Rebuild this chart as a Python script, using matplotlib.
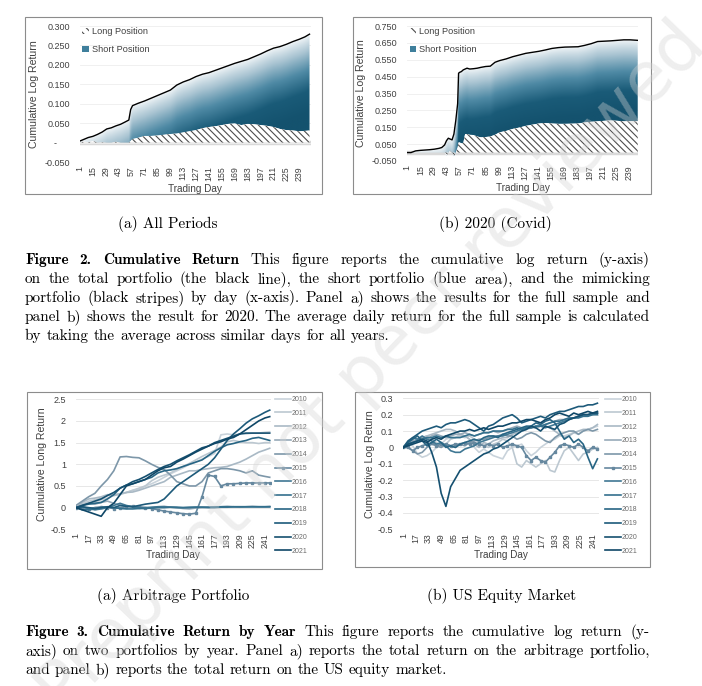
import numpy as np
import matplotlib
matplotlib.use("Agg")
import matplotlib.pyplot as plt
from matplotlib.patches import Patch, PathPatch, Rectangle
from matplotlib.colors import LinearSegmentedColormap

# ---------------- data ----------------
# Figure 2a: all periods
days_2a = [1, 5, 10, 15, 20, 25, 30, 35, 40, 45, 50, 54, 56, 58, 64, 71, 78, 85, 92, 99, 106,
           113, 120, 127, 134, 141, 148, 155, 162, 169, 176, 183, 190, 197, 204, 211, 218, 225,
           232, 239, 245, 250]
total_2a = [0.004, 0.008, 0.013, 0.016, 0.021, 0.027, 0.035, 0.038, 0.043, 0.047, 0.053, 0.058,
            0.085, 0.095, 0.101, 0.107, 0.114, 0.121, 0.128, 0.135, 0.148, 0.156, 0.162, 0.170,
            0.176, 0.180, 0.186, 0.192, 0.198, 0.204, 0.209, 0.214, 0.221, 0.228, 0.236, 0.243,
            0.247, 0.253, 0.260, 0.266, 0.272, 0.279]
long_2a = [0.0, 0.003, 0.001, 0.004, 0.0, 0.001, 0.0, 0.0, 0.002, 0.0, 0.0, 0.0, 0.004, 0.009,
           0.012, 0.017, 0.017, 0.018, 0.020, 0.022, 0.023, 0.026, 0.029, 0.032, 0.037, 0.040,
           0.042, 0.045, 0.048, 0.049, 0.045, 0.048, 0.047, 0.045, 0.043, 0.040, 0.035, 0.032,
           0.031, 0.029, 0.030, 0.031]

# Figure 2b: 2020
days_2b = [1, 5, 10, 15, 20, 25, 30, 35, 38, 41, 43, 45, 47, 49, 51, 53, 55, 56, 57, 59, 61, 63,
           65, 68, 72, 76, 80, 85, 90, 95, 100, 107, 114, 121, 128, 135, 142, 149, 156, 163, 170,
           177, 184, 191, 198, 205, 212, 219, 226, 233, 240, 248]
total_2b = [0.0, 0.0, 0.010, 0.013, 0.015, 0.017, 0.020, 0.025, 0.030, 0.045, 0.070, 0.085,
            0.080, 0.075, 0.110, 0.190, 0.290, 0.470, 0.475, 0.480, 0.490, 0.495, 0.500, 0.495,
            0.497, 0.500, 0.505, 0.510, 0.512, 0.535, 0.545, 0.555, 0.568, 0.578, 0.588, 0.594,
            0.600, 0.608, 0.617, 0.622, 0.625, 0.626, 0.627, 0.635, 0.645, 0.658, 0.660, 0.662,
            0.665, 0.668, 0.668, 0.665]
long_2b = [0.0, 0.0, 0.0, 0.0, 0.0, 0.0, 0.0, 0.0, 0.0, 0.0, -0.020, 0.0, 0.010, 0.0, -0.022,
           0.0, 0.030, 0.060, 0.060, 0.055, 0.055, 0.110, 0.110, 0.105, 0.104, 0.095, 0.090,
           0.092, 0.095, 0.105, 0.120, 0.128, 0.140, 0.148, 0.158, 0.165, 0.172, 0.175, 0.172,
           0.170, 0.170, 0.171, 0.172, 0.178, 0.182, 0.185, 0.188, 0.190, 0.188, 0.185, 0.186,
           0.186]

years = ["2010", "2011", "2012", "2013", "2014", "2015", "2016", "2017", "2018", "2019",
         "2020", "2021"]
year_colors = ["#c9d3db", "#bcc8d1", "#a9b9c5", "#97aab9", "#7d97a9", "#66889f", "#3f7793",
               "#33708d", "#276584", "#1d5a7a", "#155070", "#0f4767"]

# Figure 3a: arbitrage portfolio by year
days_3a = list(range(1, 242, 8)) + [247]
arb = {
    "2010": [0.00, 0.05, 0.10, 0.12, 0.18, 0.22, 0.28, 0.30, 0.35, 0.40, 0.42, 0.50, 0.55, 0.62,
             0.70, 0.78, 0.85, 0.92, 1.00, 1.05, 1.12, 1.18, 1.25, 1.68, 1.70, 1.68, 1.70, 1.70,
             1.72, 1.72, 1.74, 1.75],
    "2011": [0.00, 0.08, 0.15, 0.18, 0.22, 0.28, 0.30, 0.32, 0.35, 0.40, 0.45, 0.50, 0.62, 0.70,
             0.75, 0.80, 0.88, 0.95, 1.02, 1.10, 1.18, 1.25, 1.32, 1.40, 1.52, 1.55, 1.52, 1.50,
             1.50, 1.48, 1.50, 1.50],
    "2012": [0.00, 0.12, 0.20, 0.22, 0.25, 0.30, 0.28, 0.32, 0.35, 0.36, 0.40, 0.45, 0.50, 0.55,
             0.60, 0.70, 0.75, 0.80, 0.85, 0.85, 0.88, 0.90, 0.92, 0.93, 0.95, 1.00, 1.05, 1.12,
             1.20, 1.28, 1.33, 1.37],
    "2013": [0.00, 0.06, 0.10, 0.08, 0.12, 0.15, 0.10, 0.06, 0.04, 0.02, 0.00, -0.02, 0.00, 0.02,
             0.03, 0.01, 0.00, -0.02, -0.03, -0.01, 0.00, 0.01, 0.02, 0.02, 0.03, 0.02, 0.01,
             0.02, 0.03, 0.02, 0.02, 0.03],
    "2014": [0.05, 0.15, 0.25, 0.33, 0.50, 0.65, 0.85, 1.17, 1.18, 1.16, 1.15, 1.08, 1.00, 0.93,
             0.88, 0.75, 0.60, 0.55, 0.50, 0.50, 0.60, 0.80, 0.85, 0.90, 0.90, 0.88, 0.85, 0.80,
             0.85, 0.75, 0.72, 0.70],
    "2015": [0.00, 0.00, -0.02, 0.00, 0.02, 0.00, -0.02, 0.00, 0.02, 0.03, 0.02, 0.00, -0.02,
             -0.05, -0.08, -0.10, -0.12, -0.14, -0.15, -0.13, 0.25, 0.75, 0.72, 0.50, 0.55, 0.55,
             0.56, 0.57, 0.57, 0.57, 0.57, 0.57],
    "2016": [0.00, 0.02, -0.02, -0.05, -0.03, 0.00, 0.05, 0.10, 0.05, 0.02, 0.00, 0.00, 0.01,
             0.02, 0.02, 0.01, 0.00, 0.00, 0.01, 0.01, 0.01, 0.00, 0.00, 0.01, 0.01, 0.02, 0.02,
             0.02, 0.02, 0.02, 0.02, 0.02],
    "2017": [0.00, -0.05, -0.05, -0.03, 0.00, 0.02, 0.00, -0.02, -0.03, -0.03, -0.02, -0.02,
             -0.01, 0.00, 0.00, 0.01, 0.01, 0.00, 0.00, 0.01, 0.01, 0.01, 0.01, 0.02, 0.02, 0.02,
             0.02, 0.02, 0.02, 0.02, 0.02, 0.02],
    "2018": [0.00, 0.05, 0.08, 0.10, 0.12, 0.20, 0.30, 0.45, 0.52, 0.55, 0.60, 0.65, 0.70, 0.80,
             0.85, 0.87, 0.90, 0.95, 1.00, 1.05, 1.10, 1.20, 1.30, 1.38, 1.45, 1.48, 1.52, 1.55,
             1.60, 1.62, 1.58, 1.55],
    "2019": [0.00, 0.02, 0.00, -0.02, 0.00, 0.02, 0.00, 0.05, 0.03, 0.02, 0.05, 0.08, 0.10, 0.12,
             0.20, 0.35, 0.50, 0.60, 0.70, 0.80, 0.90, 1.00, 1.15, 1.35, 1.55, 1.70, 1.82, 1.95,
             2.05, 2.12, 2.20, 2.25],
    "2020": [0.00, 0.05, 0.10, 0.15, 0.20, 0.28, 0.35, 0.45, 0.52, 0.60, 0.65, 0.72, 0.80, 0.88,
             0.95, 1.00, 1.08, 1.15, 1.22, 1.30, 1.38, 1.42, 1.50, 1.55, 1.60, 1.65, 1.70, 1.72,
             1.72, 1.72, 1.72, 1.72],
    "2021": [0.00, -0.05, -0.10, -0.15, -0.20, 0.00, 0.10, 0.30, 0.50, 0.55, 0.60, 0.65, 0.75,
             0.85, 0.92, 0.95, 1.05, 1.12, 1.20, 1.28, 1.35, 1.42, 1.48, 1.52, 1.58, 1.62, 1.70,
             1.80, 1.90, 2.00, 2.07, 2.10],
}

# Figure 3b: US equity market by year
days_3b = list(range(1, 248, 6))
mkt = {
    "2010": [0.00, 0.02, 0.01, -0.04, -0.06, -0.05, -0.03, 0.00, 0.02, 0.05, 0.06, 0.06, 0.08,
             0.07, 0.05, 0.00, -0.03, -0.01, -0.03, -0.05, -0.06, -0.07, -0.02, 0.00, 0.01, 0.02,
             -0.02, -0.05, -0.03, 0.00, 0.02, 0.04, 0.05, 0.07, 0.07, 0.08, 0.09, 0.08, 0.10,
             0.11, 0.12, 0.13],
    "2011": [0.00, 0.02, 0.03, 0.05, 0.06, 0.07, 0.05, 0.03, 0.00, 0.02, 0.05, 0.06, 0.07, 0.06,
             0.07, 0.05, 0.03, 0.01, 0.00, 0.02, 0.03, 0.05, 0.04, 0.00, -0.10, -0.12, -0.08,
             -0.10, -0.12, -0.10, -0.08, -0.14, -0.15, -0.08, -0.02, 0.00, -0.04, -0.08, -0.04,
             -0.03, -0.01, 0.00],
    "2012": [0.00, 0.01, 0.03, 0.05, 0.06, 0.07, 0.08, 0.09, 0.10, 0.11, 0.11, 0.10, 0.08, 0.07,
             0.05, 0.02, 0.00, 0.03, 0.02, 0.04, 0.05, 0.06, 0.06, 0.08, 0.09, 0.10, 0.11, 0.12,
             0.12, 0.13, 0.13, 0.12, 0.10, 0.08, 0.06, 0.07, 0.09, 0.10, 0.11, 0.11, 0.12, 0.14],
    "2013": [0.00, 0.02, 0.04, 0.05, 0.06, 0.05, 0.07, 0.08, 0.07, 0.06, 0.07, 0.08, 0.08, 0.09,
             0.08, 0.07, 0.08, 0.09, 0.09, 0.10, 0.09, 0.10, 0.11, 0.12, 0.13, 0.12, 0.12, 0.13,
             0.12, 0.13, 0.14, 0.15, 0.16, 0.17, 0.17, 0.18, 0.18, 0.19, 0.20, 0.20, 0.20, 0.21],
    "2014": [0.00, 0.00, -0.02, -0.04, -0.03, 0.00, 0.02, 0.01, 0.00, 0.02, 0.01, 0.00, 0.02,
             0.01, 0.03, 0.04, 0.05, 0.05, 0.06, 0.07, 0.07, 0.08, 0.07, 0.07, 0.05, 0.06, 0.08,
             0.09, 0.08, 0.06, 0.04, 0.03, 0.06, 0.08, 0.09, 0.10, 0.10, 0.08, 0.10, 0.11, 0.10,
             0.11],
    "2015": [0.00, 0.00, -0.02, 0.00, 0.01, 0.02, 0.03, 0.01, 0.02, 0.02, 0.01, 0.02, 0.02, 0.03,
             0.02, 0.03, 0.02, 0.01, 0.02, 0.01, 0.02, 0.00, 0.01, 0.02, 0.01, 0.00, -0.05, -0.08,
             -0.06, -0.08, -0.09, -0.06, -0.03, 0.01, 0.02, 0.01, 0.00, 0.02, 0.00, -0.02, 0.00,
             -0.01],
    "2016": [0.00, 0.03, 0.06, 0.05, 0.07, 0.05, 0.04, 0.02, 0.03, 0.01, -0.02, -0.03, -0.03,
             -0.01, 0.00, 0.01, 0.03, 0.04, 0.05, 0.06, 0.07, 0.07, 0.08, 0.09, 0.10, 0.11, 0.12,
             0.12, 0.13, 0.13, 0.12, 0.13, 0.14, 0.15, 0.16, 0.17, 0.18, 0.19, 0.20, 0.20, 0.21,
             0.21],
    "2017": [0.00, 0.02, 0.03, 0.04, 0.05, 0.06, 0.06, 0.07, 0.06, 0.07, 0.06, 0.06, 0.06, 0.07,
             0.08, 0.07, 0.08, 0.09, 0.09, 0.10, 0.10, 0.10, 0.11, 0.11, 0.12, 0.11, 0.12, 0.12,
             0.13, 0.13, 0.14, 0.15, 0.16, 0.16, 0.17, 0.18, 0.18, 0.18, 0.19, 0.19, 0.20, 0.20],
    "2018": [0.00, 0.03, 0.05, 0.07, 0.04, 0.01, 0.03, 0.05, 0.03, 0.00, 0.01, 0.00, 0.02, 0.03,
             0.04, 0.05, 0.04, 0.06, 0.07, 0.07, 0.06, 0.08, 0.09, 0.10, 0.11, 0.12, 0.13, 0.13,
             0.15, 0.14, 0.16, 0.17, 0.15, 0.10, 0.05, 0.07, 0.03, 0.05, 0.02, -0.06, -0.13,
             -0.07],
    "2019": [0.00, 0.04, 0.06, 0.08, 0.10, 0.11, 0.12, 0.13, 0.12, 0.14, 0.15, 0.15, 0.16, 0.17,
             0.16, 0.14, 0.12, 0.10, 0.13, 0.14, 0.16, 0.18, 0.19, 0.20, 0.18, 0.15, 0.16, 0.17,
             0.18, 0.19, 0.18, 0.20, 0.21, 0.22, 0.22, 0.23, 0.24, 0.25, 0.25, 0.26, 0.26, 0.27],
    "2020": [0.00, 0.02, 0.03, 0.04, 0.05, 0.04, -0.03, -0.12, -0.28, -0.36, -0.24, -0.19, -0.14,
             -0.12, -0.10, -0.08, -0.06, -0.04, -0.03, -0.01, 0.00, 0.02, 0.04, 0.06, 0.08, 0.10,
             0.11, 0.13, 0.12, 0.10, 0.13, 0.12, 0.11, 0.14, 0.15, 0.17, 0.18, 0.19, 0.20, 0.20,
             0.21, 0.21],
    "2021": [0.00, 0.01, 0.02, 0.03, 0.04, 0.03, 0.05, 0.06, 0.05, 0.07, 0.08, 0.09, 0.10, 0.10,
             0.11, 0.10, 0.11, 0.12, 0.11, 0.12, 0.13, 0.13, 0.14, 0.15, 0.15, 0.16, 0.17, 0.17,
             0.16, 0.15, 0.17, 0.18, 0.20, 0.21, 0.20, 0.19, 0.21, 0.20, 0.21, 0.22, 0.21, 0.22],
}

ticks_2a = [-0.05, 0, 0.05, 0.10, 0.15, 0.20, 0.25, 0.30]
labels_2a = ["-0.050", "-     ", "0.050", "0.100", "0.150", "0.200", "0.250", "0.300"]
ticks_2b = [-0.05, 0.05, 0.15, 0.25, 0.35, 0.45, 0.55, 0.65, 0.75]
labels_2b = ["-0.050", "0.050", "0.150", "0.250", "0.350", "0.450", "0.550", "0.650", "0.750"]
ticks_3a = [-0.5, 0, 0.5, 1, 1.5, 2, 2.5]
labels_3a = ["-0.5", "0", "0.5", "1", "1.5", "2", "2.5"]
ticks_3b = [-0.5, -0.4, -0.3, -0.2, -0.1, 0, 0.1, 0.2, 0.3]
labels_3b = ["-0.5", "-0.4", "-0.3", "-0.2", "-0.1", "0", "0.1", "0.2", "0.3"]

cap2 = ["Figure 2. Cumulative Return This figure reports the cumulative log return (y-axis)",
        "on the total portfolio (the black line), the short portfolio (blue area), and the mimicking",
        "portfolio (black stripes) by day (x-axis). Panel a) shows the results for the full sample and",
        "panel b) shows the result for 2020. The average daily return for the full sample is calculated",
        "by taking the average across similar days for all years."]
cap3 = ["Figure 3. Cumulative Return by Year This figure reports the cumulative log return (y-",
        "axis) on two portfolios by year. Panel a) reports the total return on the arbitrage portfolio,",
        "and panel b) reports the total return on the US equity market."]

# ---------------- style ----------------
plt.rcParams["font.family"] = ["Liberation Sans", "DejaVu Sans"]
plt.rcParams["hatch.linewidth"] = 0.8
plt.rcParams["hatch.color"] = "#4d4d4d"
TXT = "#404040"
W, H = 702, 686

fig = plt.figure(figsize=(W / 100, H / 100), dpi=100)


def axes_px(left, right, top, bottom):
    return fig.add_axes([left / W, 1 - bottom / H, (right - left) / W, (bottom - top) / H])


def frame_px(left, top, right, bottom):
    fig.add_artist(Rectangle((left / W, 1 - bottom / H), (right - left) / W, (bottom - top) / H,
                             transform=fig.transFigure, fill=False, edgecolor="#8c8c8c",
                             linewidth=0.8))


def excel_look(ax, xticks, yticks, ylabels, ylab, ylab_x, grid_color):
    for s in ax.spines.values():
        s.set_visible(False)
    ax.set_xticks(xticks)
    ax.set_xticklabels([str(t) for t in xticks], rotation=90, fontsize=6.3, color=TXT)
    ax.set_yticks(yticks)
    ax.set_yticklabels(ylabels, fontsize=6.5, color=TXT)
    ax.tick_params(axis="x", length=0, pad=3)
    ax.tick_params(axis="y", length=0, pad=7)
    ax.yaxis.grid(True, color=grid_color, linewidth=0.6)
    ax.set_axisbelow(True)
    ax.set_ylabel(ylab, fontsize=7.6, color=TXT)
    ax.yaxis.set_label_coords(ylab_x, 0.5)
    ax.text(0.5, -0.2, "Trading Day", transform=ax.transAxes, ha="center", va="center",
            fontsize=7.2, color=TXT)


cmap = LinearSegmentedColormap.from_list("short", ["#f2f6f8", "#a9c4d2", "#4f8aa5", "#1a5b78",
                                                   "#14526e"])


def gradient_area(ax, x, lo, hi, depth, ylim):
    poly = ax.fill_between(x, lo, hi, facecolor="none", edgecolor="none")
    patch = PathPatch(poly.get_paths()[0], transform=ax.transData, facecolor="none",
                      edgecolor="none")
    ax.add_patch(patch)
    xs = np.linspace(min(x), max(x), 500)
    ys = np.linspace(ylim[0], ylim[1], 400)
    top = np.interp(xs, x, hi)
    shade = np.clip((top[None, :] - ys[:, None]) / depth, 0, 1) ** 0.85
    im = ax.imshow(shade, extent=[xs[0], xs[-1], ylim[0], ylim[1]], origin="lower",
                   aspect="auto", cmap=cmap, vmin=0, vmax=1, interpolation="bilinear", zorder=1)
    im.set_clip_path(patch)


def fig2_panel(ax, x, total, long_, ylim, depth, nmax, yticks, ylabels, ylab_x):
    ax.axhline(0, color="#d9d9d9", linewidth=3.2, zorder=0.5)
    gradient_area(ax, x, long_, total, depth, ylim)
    ax.fill_between(x, 0, long_, facecolor="white", edgecolor="#4d4d4d", hatch="\\\\\\\\\\",
                    linewidth=0, zorder=2)
    ax.plot(x, total, color="black", linewidth=1.0, zorder=3)
    ax.set_xlim(0.5, nmax + 0.5)
    ax.set_ylim(*ylim)
    excel_look(ax, list(range(1, 240, 14)), yticks, ylabels, "Cumulative Log Return", ylab_x,
               "#eeeeee")
    handles = [Patch(facecolor="white", edgecolor="#4d4d4d", hatch="\\\\\\\\", linewidth=0),
               Patch(facecolor="#3f7f9c", edgecolor="none")]
    leg = ax.legend(handles, ["Long Position", "Short Position"], loc="upper left",
                    bbox_to_anchor=(0.012, 0.99), frameon=False, fontsize=6.6,
                    handlelength=0.7, handleheight=0.7, handletextpad=0.35, labelspacing=0.95,
                    borderpad=0, borderaxespad=0)
    for t in leg.get_texts():
        t.set_color(TXT)


def fig3_panel(ax, x, series, ylim, yticks, ylabels, ylab, ylab_x, leg_x):
    for yr, col in zip(years, year_colors):
        kw = dict(marker="s", markersize=1.6) if yr == "2015" else {}
        ax.plot(x, series[yr], color=col, linewidth=1.2, label=yr, **kw)
    ax.set_xlim(0.5, 248.5)
    ax.set_ylim(*ylim)
    excel_look(ax, list(range(1, 242, 16)), yticks, ylabels, ylab, ylab_x, "#e3e3e3")
    leg = ax.legend(loc="upper left", bbox_to_anchor=(leg_x / W, 1 - 396 / H),
                    bbox_transform=fig.transFigure, frameon=False, fontsize=5.0,
                    handlelength=2.3, handletextpad=0.15, labelspacing=0.98, borderpad=0,
                    borderaxespad=0)
    for t in leg.get_texts():
        t.set_color("#6b6b6b")


# ---------------- figure 2 ----------------
ax2a = axes_px(79.5, 310.9, 26, 162)
fig2_panel(ax2a, days_2a, total_2a, long_2a, (-0.05, 0.30), 0.2, 251, ticks_2a, labels_2a,
           -0.177)
ax2b = axes_px(406.8, 638.2, 26, 161)
fig2_panel(ax2b, days_2b, total_2b, long_2b, (-0.05, 0.75), 0.42, 248, ticks_2b, labels_2b,
           -0.175)
frame_px(25, 17, 322, 194)
frame_px(353, 17, 651, 194)

# ---------------- figure 3 ----------------
ax3a = axes_px(75.6, 270.9, 399.3, 529.3)
fig3_panel(ax3a, days_3a, arb, (-0.5, 2.5), ticks_3a, labels_3a, "Cumulative Long Return",
           -0.145, 275)
ax3b = axes_px(402.9, 598.6, 398.3, 529.3)
fig3_panel(ax3b, days_3b, mkt, (-0.5, 0.3), ticks_3b, labels_3b, "Cumulative Log Return",
           -0.145, 605)
frame_px(27, 392, 322, 569)
frame_px(355, 392, 650, 567)

# ---------------- captions ----------------
SERIF = "cmr10"
BOLD = "cmb10"


def sub_caption(text, xc, yb):
    fig.text(xc / W, 1 - yb / H, text, family=SERIF, fontsize=11, ha="center",
             va="baseline")


def caption(lines, n_bold, x0, x1, baselines, size=11):
    r = fig.canvas.get_renderer()
    k = 0
    for li, (line, yb) in enumerate(zip(lines, baselines)):
        words = line.split(" ")
        objs = []
        for w in words:
            fam = BOLD if k < n_bold else SERIF
            k += 1
            objs.append(fig.text(0, 1 - yb / H, w, family=fam, fontsize=size, va="baseline",
                                 ha="left"))
        widths = [o.get_window_extent(renderer=r).width for o in objs]
        if li < len(lines) - 1 and len(words) > 1:
            gap = (x1 - x0 - sum(widths)) / (len(words) - 1)
        else:
            gap = size * 1.389 * 0.333
        x = x0
        for o, w in zip(objs, widths):
            o.set_x(x / W)
            x += w + gap


sub_caption("(a) All Periods", 168, 228)
sub_caption("(b) 2020 (Covid)", 495, 228)
caption(cap2, 4, 25, 650, [264, 283, 302, 321, 340])
sub_caption("(a) Arbitrage Portfolio", 173, 600)
sub_caption("(b) US Equity Market", 502, 600)
caption(cap3, 6, 25, 650, [636, 655, 674])

# watermark
fig.text(372 / W, 1 - 368 / H, "Preprint not peer reviewed", rotation=46, fontsize=50,
         color="#d4d4d4", alpha=0.38, ha="center", va="center", zorder=100,
         family="DejaVu Sans")

fig.savefig("out.png", dpi=100)
